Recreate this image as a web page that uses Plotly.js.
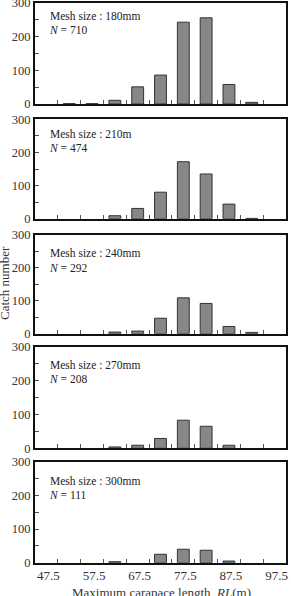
<!DOCTYPE html>
<html>
<head>
<meta charset="utf-8">
<script src="https://cdn.plot.ly/plotly-3.0.1.min.js"></script>
<style>html,body{margin:0;padding:0;background:#fff;}#chart{width:291px;height:596px;}</style>
</head>
<body>
<div id="chart"></div>
<script>
// Length classes (bin centres) and catch numbers per mesh size (null = no catch)
var lengthBins = [52.5, 57.5, 62.5, 67.5, 72.5, 77.5, 82.5, 87.5, 92.5];
var catch180 = [1, 1, 11, 51, 86, 243, 256, 58, 5];
var catch210 = [null, null, 9, 31, 80, 172, 135, 44, 1];
var catch240 = [null, null, 5, 8, 47, 109, 92, 22, 4];
var catch270 = [null, null, 4, 9, 29, 83, 65, 9, null];
var catch300 = [null, null, 3, null, 25, 40, 37, 5, null];
var meshLabels = ["Mesh size : 180mm", "Mesh size : 210m", "Mesh size : 240mm", "Mesh size : 270mm", "Mesh size : 300mm"];
var nLabels = ["710", "474", "292", "208", "111"];
var xTickLabels = ["47.5", "57.5", "67.5", "77.5", "87.5", "97.5"];
var xTickVals = [47.5, 57.5, 67.5, 77.5, 87.5, 97.5];
var binEdges = [50, 55, 60, 65, 70, 75, 80, 85, 90, 95];
var yTickVals = [0, 50, 100, 150, 200, 250, 300];
var yTickText = ["0", "", "100", "", "200", "", "300"];

var series = [catch180, catch210, catch240, catch270, catch300];

var W = 291, H = 596;
var topPx = [3, 119.3, 235, 346.7, 461.7];
var botPx = [104, 218.7, 333.7, 448.3, 562.7];
var line1Px = [16, 134, 253, 365, 481];
var line2Px = [30, 148, 268, 379, 495];
var font = "Liberation Serif, Times New Roman, serif";

var data = [];
var layout = {
  width: W, height: H,
  margin: {l: 0, r: 0, t: 0, b: 0},
  paper_bgcolor: "#fff", plot_bgcolor: "#fff",
  showlegend: false,
  bargap: 0,
  font: {family: font, color: "#000", size: 12},
  annotations: []
};

for (var i = 0; i < 5; i++) {
  var k = i + 1;
  var xa = "x" + k, ya = "y" + k;
  data.push({
    type: "bar",
    x: lengthBins,
    y: series[i],
    width: 2.6,
    xaxis: xa, yaxis: ya,
    marker: {color: "#878787", line: {color: "#333", width: 1}},
    hoverinfo: "x+y"
  });
  var last = (i === 4);
  layout["xaxis" + k] = {
    domain: [35 / W, 286 / W],
    anchor: ya,
    range: [45, 100],
    tickmode: "array",
    tickvals: last ? xTickVals : [],
    ticktext: last ? xTickLabels : [],
    showticklabels: last,
    ticklabelshift: 2,
    ticks: "",
    tickfont: {family: font, size: 13, color: "#333"},
    minor: {tickvals: binEdges, ticks: "inside", ticklen: 4, tickcolor: "#555", tickwidth: 1},
    showline: true, linecolor: "#111", linewidth: 2, mirror: true,
    showgrid: false, zeroline: false, fixedrange: true
  };
  layout["yaxis" + k] = {
    domain: [1 - botPx[i] / H, 1 - topPx[i] / H],
    anchor: xa,
    range: [0, 300],
    tickmode: "array",
    tickvals: yTickVals,
    ticktext: yTickText,
    ticks: "inside", ticklen: 4, tickcolor: "#555", tickwidth: 1,
    ticklabeloverflow: "allow",
    tickfont: {family: font, size: 12.5, color: "#333"},
    showline: true, linecolor: "#111", linewidth: 2, mirror: true,
    showgrid: false, zeroline: false, fixedrange: true
  };
  layout.annotations.push({
    xref: "paper", yref: "paper",
    x: 47.5 / W, y: 1 - line1Px[i] / H,
    xanchor: "left", yanchor: "middle",
    text: meshLabels[i], showarrow: false,
    font: {family: font, size: 11.5, color: "#222"}
  });
  layout.annotations.push({
    xref: "paper", yref: "paper",
    x: 46.5 / W, y: 1 - line2Px[i] / H,
    xanchor: "left", yanchor: "middle",
    text: "<i>N</i> = " + nLabels[i], showarrow: false,
    font: {family: font, size: 11.5, color: "#222"}
  });
}

layout.annotations.push({
  xref: "paper", yref: "paper",
  x: 4 / W, y: 1 - 283 / H,
  xanchor: "center", yanchor: "middle",
  textangle: -90,
  text: "Catch number", showarrow: false,
  font: {family: font, size: 13, color: "#333"}
});
layout.annotations.push({
  xref: "paper", yref: "paper",
  x: 161 / W, y: 1 - 592 / H,
  xanchor: "center", yanchor: "middle",
  text: "Maximum carapace length, <i>RL</i>(m)", showarrow: false,
  font: {family: font, size: 13, color: "#333"}
});

Plotly.newPlot("chart", data, layout, {staticPlot: true, displayModeBar: false});
</script>
</body>
</html>
